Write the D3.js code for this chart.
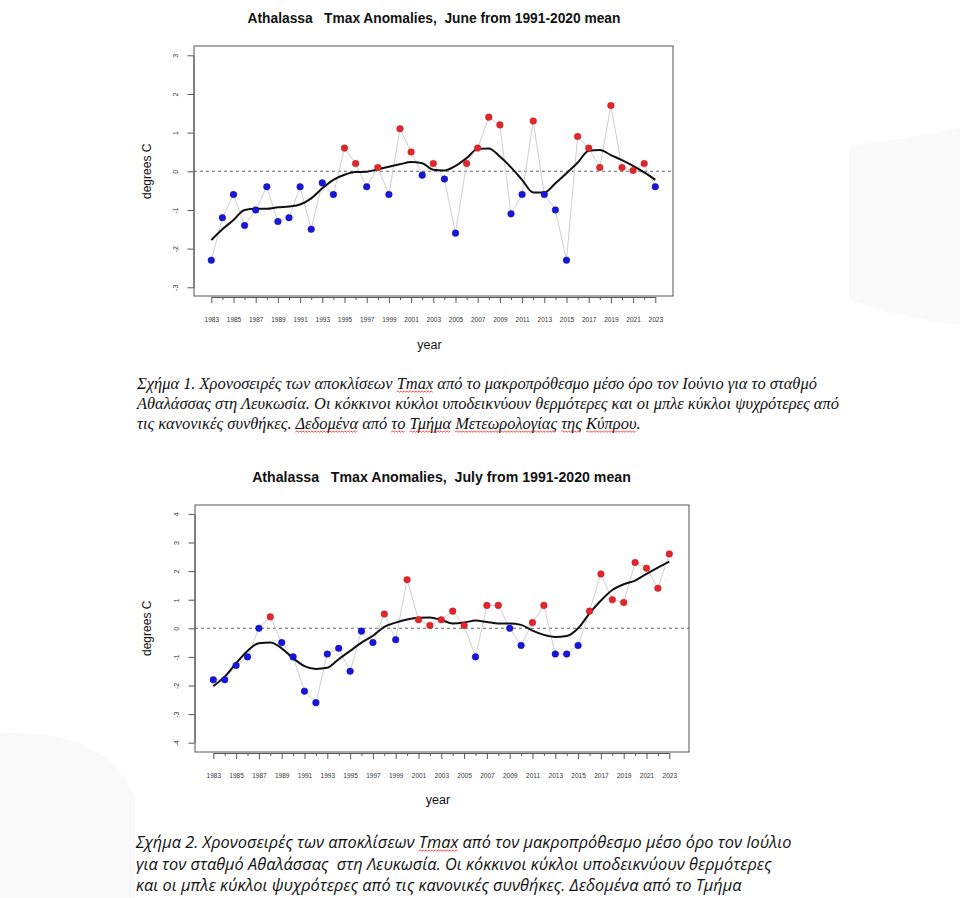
<!DOCTYPE html>
<html><head><meta charset="utf-8">
<script src="https://cdn.jsdelivr.net/npm/d3@7"></script>
<style>body{margin:0;background:#fff} svg{display:block} text{white-space:pre}</style>
</head><body>
<svg id="c" width="960" height="898"></svg>
<script>
// ---------------- DATA ----------------
const years = [1983,1984,1985,1986,1987,1988,1989,1990,1991,1992,1993,1994,1995,1996,1997,1998,1999,2000,2001,2002,2003,2004,2005,2006,2007,2008,2009,2010,2011,2012,2013,2014,2015,2016,2017,2018,2019,2020,2021,2022,2023];
const xTickLabels = ["1983","1985","1987","1989","1991","1993","1995","1997","1999","2001","2003","2005","2007","2009","2011","2013","2015","2017","2019","2021","2023"];

const juneAnomaly = [-2.3,-1.2,-0.6,-1.4,-1.0,-0.4,-1.3,-1.2,-0.4,-1.5,-0.3,-0.6,0.6,0.2,-0.4,0.1,-0.6,1.1,0.5,-0.1,0.2,-0.2,-1.6,0.2,0.6,1.4,1.2,-1.1,-0.6,1.3,-0.6,-1.0,-2.3,0.9,0.6,0.1,1.7,0.1,0.02,0.2,-0.4];
const juneSmooth = [-1.78,-1.5,-1.26,-1.0,-0.97,-0.97,-0.93,-0.91,-0.86,-0.70,-0.44,-0.22,-0.09,-0.02,-0.01,0.05,0.12,0.18,0.24,0.21,0.04,0.02,0.14,0.34,0.58,0.59,0.38,0.10,-0.22,-0.55,-0.55,-0.31,-0.05,0.22,0.53,0.55,0.42,0.29,0.14,-0.03,-0.22];
const juneYTicks = [-3,-2,-1,0,1,2,3];

const julyAnomaly = [-1.8,-1.8,-1.3,-1.0,0.0,0.4,-0.5,-1.0,-2.2,-2.6,-0.9,-0.7,-1.5,-0.1,-0.5,0.5,-0.4,1.7,0.3,0.1,0.3,0.6,0.1,-1.0,0.8,0.8,0.0,-0.6,0.2,0.8,-0.9,-0.9,-0.6,0.6,1.9,1.0,0.9,2.3,2.1,1.4,2.6];
const julySmooth = [-2.02,-1.69,-1.22,-0.79,-0.52,-0.50,-0.70,-1.05,-1.32,-1.42,-1.38,-1.08,-0.79,-0.50,-0.26,0.05,0.20,0.31,0.37,0.38,0.29,0.17,0.20,0.27,0.22,0.17,0.17,0.12,-0.08,-0.23,-0.30,-0.27,0.0,0.52,0.97,1.34,1.54,1.67,1.90,2.12,2.33];
const julyYTicks = [-4,-3,-2,-1,0,1,2,3,4];

const juneTitle = "Athalassa   Tmax Anomalies,  June from 1991-2020 mean";
const julyTitle = "Athalassa   Tmax Anomalies,  July from 1991-2020 mean";
const yLabel = "degrees C";
const xLabel = "year";

const caption1 = [
  "Σχήμα 1. Χρονοσειρές των αποκλίσεων Tmax από το μακροπρόθεσμο μέσο όρο τον Ιούνιο για το σταθμό",
  "Αθαλάσσας στη Λευκωσία. Οι κόκκινοι κύκλοι υποδεικνύουν θερμότερες και οι μπλε κύκλοι ψυχρότερες από",
  "τις κανονικές συνθήκες. Δεδομένα από το Τμήμα Μετεωρολογίας της Κύπρου."
];
const caption1Marks = [["Tmax"], [], ["Δεδομένα", "το Τμήμα Μετεωρολογίας της Κύπρου"]];
const caption2 = [
  "Σχήμα 2. Χρονοσειρές των αποκλίσεων Tmax από τον μακροπρόθεσμο μέσο όρο τον Ιούλιο",
  "για τον σταθμό Αθαλάσσας  στη Λευκωσία. Οι κόκκινοι κύκλοι υποδεικνύουν θερμότερες",
  "και οι μπλε κύκλοι ψυχρότερες από τις κανονικές συνθήκες. Δεδομένα από το Τμήμα"
];
const caption2Marks = [["Tmax"], [], []];

// ---------------- DRAW ----------------
const svg = d3.select("#c");
const RED = "#e3262b", BLUE = "#1616dc";

// faint background shapes
svg.append("path").attr("d","M849,146 Q900,140 960,128 L960,325 Q900,318 849,300 Z").attr("fill","#fafafa");
svg.append("path").attr("d","M0,733 Q110,728 135,800 L135,898 L0,898 Z").attr("fill","#f9f9f9");

function fitText(sel, target) {
  const w = sel.node().getComputedTextLength();
  const fs = parseFloat(sel.attr("font-size"));
  sel.attr("font-size", fs * target / w);
  return fs * target / w;
}

function drawChart(cfg) {
  const g = svg.append("g");
  const [bx0, by0, bx1, by1] = cfg.box;
  const x = d3.scaleLinear().domain([years[0], years[years.length - 1]]).range(cfg.xr);
  const y = d3.scaleLinear().domain([d3.min(cfg.yTicks), d3.max(cfg.yTicks)]).range(cfg.yr);

  // title
  const t = g.append("text").attr("x", cfg.titleX).attr("y", cfg.titleY)
    .attr("text-anchor", "middle").attr("font-family", "Liberation Sans, Arial, sans-serif")
    .attr("font-weight", "bold").attr("font-size", 13).attr("fill", "#111").text(cfg.title);
  fitText(t, cfg.titleW);

  // box
  g.append("rect").attr("x", bx0).attr("y", by0).attr("width", bx1 - bx0).attr("height", by1 - by0)
    .attr("fill", "none").attr("stroke", "#555").attr("stroke-width", 1);

  // y axis
  const ya = g.append("g").attr("transform", `translate(${bx0 - 0.5},0)`)
    .call(d3.axisLeft(y).tickValues(cfg.yTicks).tickSize(6).tickSizeOuter(0).tickFormat(d => String(d)));
  ya.select(".domain").attr("stroke", "#555");
  ya.selectAll(".tick line").attr("stroke", "#555");
  ya.selectAll(".tick text").attr("x", null).attr("dy", null)
    .attr("transform", "translate(-16,0) rotate(-90)").attr("text-anchor", "middle")
    .attr("font-family", "Liberation Sans, Arial, sans-serif").attr("font-size", 7).attr("fill", "#333");

  // x axis
  const xa = g.append("g").attr("transform", `translate(0,${by1 + 1})`)
    .call(d3.axisBottom(x).tickValues(years).tickSize(6).tickSizeOuter(0)
      .tickFormat(d => xTickLabels.includes(String(d)) ? String(d) : ""));
  xa.select(".domain").attr("stroke", "#555");
  xa.selectAll(".tick line").attr("stroke", "#555")
    .attr("y2", d => xTickLabels.includes(String(d)) ? 6 : 3);
  xa.selectAll(".tick text").attr("y", 25).attr("dy", null)
    .attr("font-family", "Liberation Sans, Arial, sans-serif").attr("font-size", 6.5).attr("fill", "#333");

  // axis titles
  g.append("text").attr("transform", `translate(${cfg.yLabX},${y(0)}) rotate(-90)`)
    .attr("text-anchor", "middle").attr("font-family", "Liberation Sans, Arial, sans-serif")
    .attr("font-size", 12).attr("fill", "#111").text(yLabel);
  g.append("text").attr("x", (bx0 + bx1) / 2 - 4).attr("y", by1 + cfg.xLabDy)
    .attr("text-anchor", "middle").attr("font-family", "Liberation Sans, Arial, sans-serif")
    .attr("font-size", 12.5).attr("fill", "#111").text(xLabel);

  // zero line
  g.append("line").attr("x1", bx0).attr("x2", bx1).attr("y1", y(0)).attr("y2", y(0))
    .attr("stroke", "#666").attr("stroke-width", 1.1).attr("stroke-dasharray", "3,3");

  const pts = years.map((yr, i) => ({ yr, v: cfg.values[i], s: cfg.smooth[i] }));
  // thin grey connecting line
  g.append("path").datum(pts).attr("fill", "none").attr("stroke", "#cfcfcf").attr("stroke-width", 1)
    .attr("d", d3.line().x(d => x(d.yr)).y(d => y(d.v)));
  // smooth line
  g.append("path").datum(pts).attr("fill", "none").attr("stroke", "#111").attr("stroke-width", 2)
    .attr("stroke-linejoin", "round")
    .attr("d", d3.line().x(d => x(d.yr)).y(d => y(d.s)).curve(d3.curveMonotoneX));
  // points
  g.selectAll("circle.p").data(pts).join("circle").attr("class", "p")
    .attr("cx", d => x(d.yr)).attr("cy", d => y(d.v)).attr("r", 3.3)
    .attr("fill", d => d.v > 0 ? RED : BLUE)
    .attr("stroke", d => d.v > 0 ? "#b81a1e" : "#0c0c9a").attr("stroke-width", 0.5);
}

drawChart({
  title: juneTitle, titleX: 434, titleY: 23, titleW: 373,
  box: [194, 46, 673, 296], xr: [211.3, 655.3], yr: [287.3, 55.3],
  yTicks: juneYTicks, values: juneAnomaly, smooth: juneSmooth,
  yLabX: 151, xLabDy: 53
});
drawChart({
  title: julyTitle, titleX: 441.5, titleY: 482, titleW: 379,
  box: [195, 505, 689, 752], xr: [213.3, 669.3], yr: [742.7, 513.9],
  yTicks: julyYTicks, values: julyAnomaly, smooth: julySmooth,
  yLabX: 151, xLabDy: 52
});

function squiggle(textSel, phrases, baseline) {
  const node = textSel.node();
  const str = node.textContent;
  phrases.forEach(ph => {
    const start = str.indexOf(ph);
    if (start < 0) return;
    let off = 0;
    ph.split(" ").forEach(w => {
      const s = start + off, e = s + w.length - 1;
      off += w.length + 1;
      const x0 = node.getStartPositionOfChar(s).x, x1 = node.getEndPositionOfChar(e).x;
      let d = `M${x0},${baseline + 3}`;
      let up = true;
      for (let xx = x0 + 1.5; xx <= x1; xx += 1.5) { d += `L${xx},${baseline + (up ? 1.8 : 3.4)}`; up = !up; }
      svg.append("path").attr("d", d).attr("fill", "none").attr("stroke", "#e02828").attr("stroke-width", 0.8);
    });
  });
}

function drawCaption(lines, marks, opt) {
  let fs = null;
  lines.forEach((ln, i) => {
    const t = svg.append("text").attr("x", opt.x).attr("y", opt.y0 + i * opt.dy)
      .attr("font-family", opt.font).attr("font-style", "italic").attr("font-size", fs || 14)
      .attr("fill", "#111").text(ln);
    if (i === 0) fs = fitText(t, opt.w);
    squiggle(t, marks[i], opt.y0 + i * opt.dy);
  });
}

drawCaption(caption1, caption1Marks, { x: 137, y0: 389, dy: 20, w: 680, font: "Liberation Serif, Times New Roman, serif" });
drawCaption(caption2, caption2Marks, { x: 136, y0: 848, dy: 21.5, w: 656, font: "Open Sans, Noto Sans, sans-serif" });
</script>
</body></html>
